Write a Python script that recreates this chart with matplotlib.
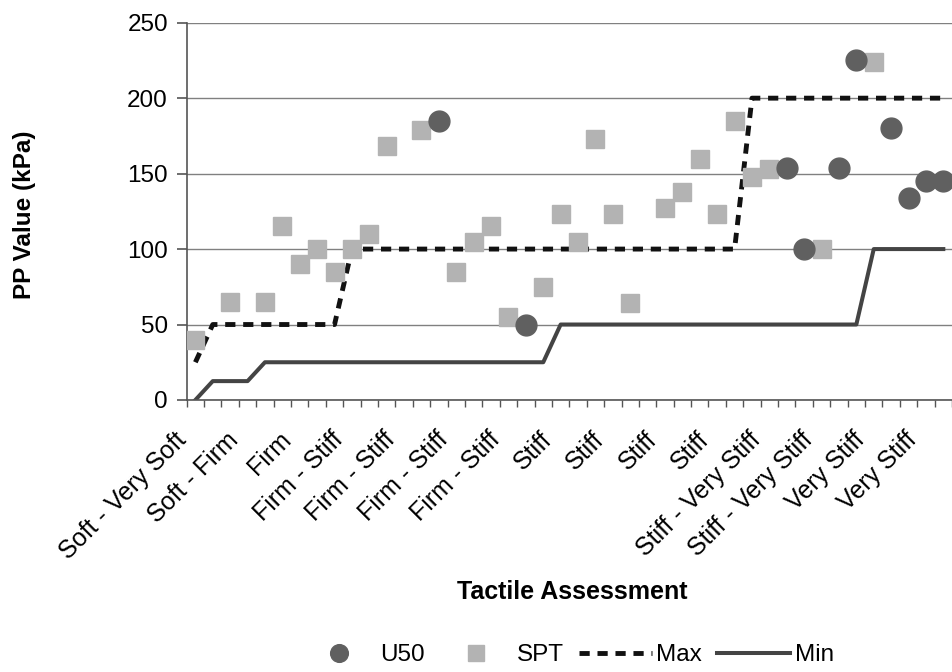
#!/usr/bin/env python3
"""PP value against tactile assessment, U50 / SPT points with Max/Min bounds."""

import matplotlib
matplotlib.use("Agg")
import matplotlib.pyplot as plt
import matplotlib.transforms as mtransforms
import numpy as np

nan = np.nan

# one label every third category
tick_labels = [
    "Soft - Very Soft", "Soft - Firm", "Firm", "Firm - Stiff", "Firm - Stiff",
    "Firm - Stiff", "Firm - Stiff", "Stiff", "Stiff", "Stiff", "Stiff",
    "Stiff - Very Stiff", "Stiff - Very Stiff", "Very Stiff", "Very Stiff",
]

u50 = [
    nan, nan, nan, nan, nan, nan, nan, nan, nan, nan, nan,
    nan, nan, nan, 185, nan, nan, nan, nan, 50, nan, nan,
    nan, nan, nan, nan, nan, nan, nan, nan, nan, nan, nan,
    nan, 154, 100, nan, 154, 225, nan, 180, 134, 145, 145,
]

spt = [
    40, nan, 65, nan, 65, 115, 90, 100, 85, 100, 110,
    168, nan, 179, nan, 85, 105, 115, 55, nan, 75, 123,
    105, 173, 123, 64, nan, 127, 138, 160, 123, 185, 148,
    153, nan, nan, 100, nan, nan, 224, nan, nan, nan, nan,
]

pp_max = [
    25, 50, 50, 50, 50, 50, 50, 50, 50, 100, 100,
    100, 100, 100, 100, 100, 100, 100, 100, 100, 100, 100,
    100, 100, 100, 100, 100, 100, 100, 100, 100, 100, 200,
    200, 200, 200, 200, 200, 200, 200, 200, 200, 200, 200,
]

pp_min = [
    0, 12.5, 12.5, 12.5, 25, 25, 25, 25, 25, 25, 25,
    25, 25, 25, 25, 25, 25, 25, 25, 25, 25, 50,
    50, 50, 50, 50, 50, 50, 50, 50, 50, 50, 50,
    50, 50, 50, 50, 50, 50, 100, 100, 100, 100, 100,
]

plt.rcParams["font.family"] = ["Liberation Sans", "DejaVu Sans"]

x = np.arange(len(pp_max))

fig = plt.figure(figsize=(9.52, 6.72), dpi=100)
ax = fig.add_axes([0.1961, 0.4048, 0.8039, 0.5614])

ax.plot(x, pp_max, color="#111111", lw=3.5, linestyle=(0, (2.1, 1.6)),
        label="Max", zorder=2)
ax.plot(x, pp_min, color="#444444", lw=2.9, label="Min", zorder=2)
ax.plot(x, spt, linestyle="none", marker="s", ms=13, mfc="#b3b3b3",
        mec="#b3b3b3", label="SPT", zorder=3)
ax.plot(x, u50, linestyle="none", marker="o", ms=15, mfc="#606060",
        mec="#606060", label="U50", zorder=4)

ax.set_ylim(0, 250)
ax.set_yticks([0, 50, 100, 150, 200, 250])
ax.set_xlim(-0.5, 43.08)
ax.yaxis.grid(True, color="#808080", lw=1)
ax.set_axisbelow(True)

for side in ["top", "right"]:
    ax.spines[side].set_visible(False)
for side in ["left", "bottom"]:
    ax.spines[side].set_color("#555555")
    ax.spines[side].set_linewidth(1.2)

ax.tick_params(axis="y", direction="out", length=7.5, width=1.2,
               color="#555555", labelsize=17.5, pad=6)

# tick marks between categories, labels on every third category
ax.set_xticks(np.arange(-0.5, len(x) + 0.5, 1))
ax.tick_params(axis="x", which="major", direction="out", length=5,
               width=1, color="#555555", labelbottom=False)
ax.set_xticks(x[::3], tick_labels, minor=True)
ax.tick_params(axis="x", which="minor", length=0, labelsize=18, pad=20)
shift = mtransforms.ScaledTranslation(-4 / 100, 0, fig.dpi_scale_trans)
for lab in ax.get_xticklabels(minor=True):
    lab.set_rotation(45)
    lab.set_ha("right")
    lab.set_transform(lab.get_transform() + shift)

ax.set_ylabel("PP Value (kPa)", fontsize=17.5, fontweight="bold", va="center")
ax.yaxis.set_label_coords(-0.2113, 0.49)
ax.set_xlabel("Tactile Assessment", fontsize=18, fontweight="bold",
              va="center")
ax.xaxis.set_label_coords(0.5035, -0.509)

handles, labels = ax.get_legend_handles_labels()
order = [labels.index(n) for n in ["U50", "SPT", "Max", "Min"]]
fig.legend([handles[i] for i in order], [labels[i] for i in order],
           loc="center", bbox_to_anchor=(568 / 952, 0.025), ncol=4,
           frameon=False, fontsize=17.5, handlelength=3.0,
           handletextpad=0.2, columnspacing=0.6, markerscale=0.85)

fig.savefig("out.png", dpi=100, facecolor="white")
